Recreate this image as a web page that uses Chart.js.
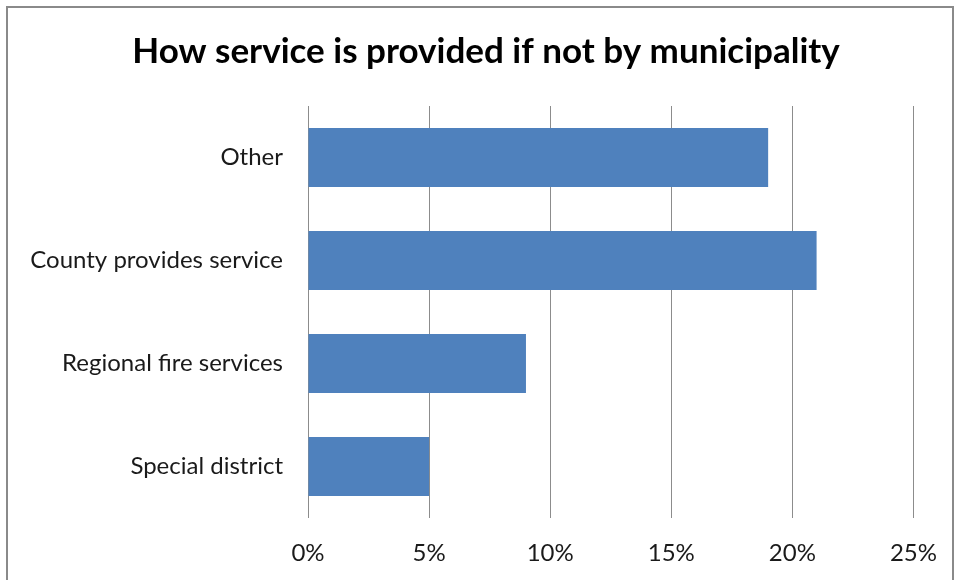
<!DOCTYPE html>
<html>
<head>
<meta charset="utf-8">
<script src="https://cdn.jsdelivr.net/npm/chart.js@4/dist/chart.umd.min.js"></script>
<style>
  html, body { margin: 0; padding: 0; background: #fff; }
  #wrap { position: relative; width: 958px; height: 580px; overflow: hidden; }
  #frame { position: absolute; left: 6px; top: 6px; width: 944px; height: 600px; border: 2px solid #8a8a8a; }
  #chart-1 { position: absolute; left: 0; top: 0; }
</style>
</head>
<body>
<div id="wrap">
  <div id="frame"></div>
  <canvas id="chart-1" width="958" height="580"></canvas>
</div>
<script>
const categories = ["Other", "County provides service", "Regional fire services", "Special district"];
const percentValues = [19, 21, 9, 5];
const tickValues = [0, 5, 10, 15, 20, 25];
const chartTitle = "How service is provided if not by municipality";

const fontFamily = "Lato, 'Open Sans', sans-serif";

// title centred on the whole frame, not on the plot box
const frameTitle = {
  id: "frameTitle",
  afterDraw: function (chart) {
    const c = chart.ctx;
    c.save();
    c.font = "bold 35px " + fontFamily;
    c.fillStyle = "#000";
    c.textAlign = "center";
    c.textBaseline = "middle";
    c.fillText(chartTitle, 486, 52);
    c.restore();
  }
};

const ctx1 = document.getElementById("chart-1").getContext("2d");
const myChart1 = new Chart(ctx1, {
  type: "bar",
  data: {
    labels: categories,
    datasets: [{
      label: "Share",
      data: percentValues,
      backgroundColor: "#4f81bd",
      borderWidth: 0,
      categoryPercentage: 1,
      barPercentage: 0.573
    }]
  },
  options: {
    indexAxis: "y",
    responsive: false,
    animation: false,
    layout: { padding: { left: 0, right: 42, top: 106, bottom: 0 } },
    plugins: {
      legend: { display: false },
      tooltip: { enabled: false },
      title: { display: false }
    },
    scales: {
      x: {
        min: 0,
        max: 25,
        afterBuildTicks: function (scale) {
          scale.ticks = tickValues.map(function (v) { return { value: v }; });
        },
        afterFit: function (scale) { scale.height = 62; },
        grid: { color: "#8c8c8c", lineWidth: 1, drawTicks: false },
        border: { display: false },
        ticks: {
          color: "#1a1a1a",
          padding: 21,
          font: { family: fontFamily, size: 24 },
          callback: function (v) { return v + "%"; }
        }
      },
      y: {
        afterFit: function (scale) { scale.width = 308; },
        grid: { display: false, drawTicks: false },
        border: { display: false },
        ticks: {
          color: "#1a1a1a",
          padding: 25,
          font: { family: fontFamily, size: 24 }
        }
      }
    }
  },
  plugins: [frameTitle]
});
</script>
</body>
</html>
